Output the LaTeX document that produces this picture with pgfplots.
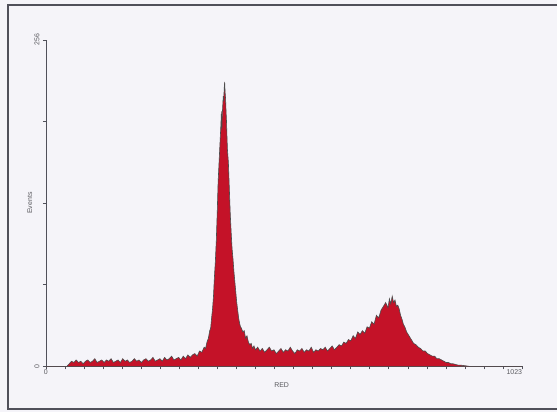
\documentclass[border=0pt]{standalone}
\usepackage{pgfplots}
\pgfplotsset{compat=1.18}
\usepackage{pgfplotstable}
\usepackage{fontspec}
\setmainfont{Liberation Sans}
\definecolor{bg}{RGB}{245,244,249}
\definecolor{histred}{RGB}{196,18,40}
\definecolor{framegray}{RGB}{80,80,90}
\definecolor{txtgray}{RGB}{90,90,95}
\pgfplotstableread{
ch ev
0 0
40 0
45 0
50 2
55 4
60 3
65 5
70 3
75 4
80 2
85 4
90 5
95 3
100 4
105 6
110 3
115 4
120 5
125 3
130 5
135 4
140 6
145 3
150 4
155 5
160 3
165 6
170 4
175 5
180 3
185 4
190 6
195 4
200 5
205 3
210 5
215 6
220 4
225 5
230 7
235 4
240 5
245 6
250 4
255 7
260 5
265 6
270 8
275 5
280 6
285 7
290 5
295 8
300 6
305 9
310 7
315 9
320 10
325 8
330 12
335 11
340 15
343 14
346 19
349 22
352 28
354 30
356 38
358 45
360 55
362 70
364 82
366 98
368 120
370 145
372 160
374 175
376 190
377 200
378 185
379 198
380 205
381 212
382 208
383 218
384 223
385 215
386 210
387 200
388 192
389 180
390 170
392 160
394 140
396 120
398 105
400 92
402 84
404 74
406 66
408 58
410 50
412 44
414 38
416 34
418 31
420 30
423 27
426 28
429 22
432 24
435 19
438 17
441 18
444 14
447 16
450 13
455 15
460 12
465 14
470 11
475 13
480 15
485 12
490 13
495 10
500 12
505 14
510 11
515 13
520 12
525 15
530 12
535 10
540 13
545 12
550 14
555 11
560 13
565 12
570 15
575 11
580 13
585 12
590 14
595 13
600 15
605 12
610 14
615 16
620 13
625 15
630 17
635 16
640 19
645 18
650 21
655 20
660 24
665 22
670 27
675 25
680 28
685 26
690 31
695 30
700 35
705 33
710 40
715 38
720 44
725 47
730 50
735 46
738 53
741 49
744 55
747 50
750 52
753 47
756 48
759 45
762 40
765 37
768 33
771 31
775 27
780 24
785 21
790 18
795 17
800 15
805 14
810 12
815 12
820 10
825 9
830 8
835 8
840 6
845 6
850 5
855 4
860 3
865 3
870 2
875 2
880 1.5
885 1
890 1
900 0.5
910 0
1023 0
}\histdata
\begin{document}
\begin{tikzpicture}
\fill[bg] (0bp,0bp) rectangle (558bp,413bp);
\draw[framegray, line width=2bp] (558bp,408bp) -- (8bp,408bp) -- (8bp,3bp) -- (558bp,3bp);
\begin{axis}[
  at={(46bp,46bp)}, anchor=south west,
  scale only axis, width=477bp, height=327bp,
  xmin=0, xmax=1023, ymin=0, ymax=256,
  enlargelimits=false,
  axis lines=left,
  axis line style={-, draw=framegray, line width=0.6bp},
  tick style={draw=framegray, line width=0.5bp},
  tick align=outside,
  major tick length=3bp,
  xtick={0,40.92,...,1023.5},
  xticklabels={},
  extra x ticks={0,1023},
  extra x tick labels={0,\llap{1023}},
  extra x tick style={major tick length=0pt},
  ytick={0,64,128,192,256},
  yticklabels={0,,,,256},
  yticklabel style={rotate=90, anchor=south, font=\fontsize{7}{8}\selectfont, text=txtgray},
  xticklabel style={font=\fontsize{7}{8}\selectfont, text=txtgray},
  /pgf/number format/assume math mode=true,
  xlabel={RED},
  ylabel={Events},
  xlabel style={at={(axis description cs:0.495,-0.058)}, anchor=center, font=\fontsize{7}{8}\selectfont, text=txtgray},
  ylabel style={at={(axis description cs:-0.034,0.5)}, anchor=center, font=\fontsize{7}{8}\selectfont, text=txtgray},
]
\addplot[fill=histred, draw=black!70, line width=0.6bp] table[x=ch, y=ev] {\histdata} \closedcycle;
\end{axis}
\end{tikzpicture}
\end{document}
